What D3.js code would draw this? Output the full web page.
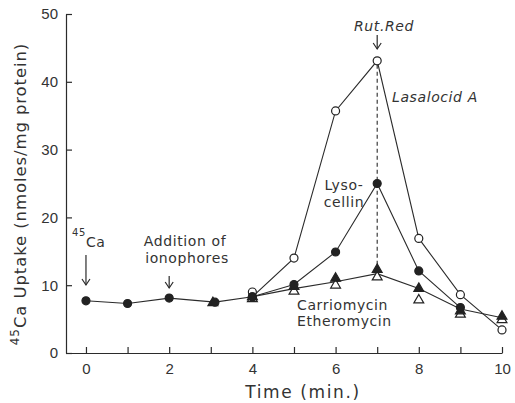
<!DOCTYPE html>
<html>
<head>
<meta charset="utf-8">
<script src="https://cdn.jsdelivr.net/npm/d3@7"></script>
<style>
  body { margin: 0; background: #fff; }
  svg { display: block; font-family: "DejaVu Sans", sans-serif; }
  .axis path, .axis line { stroke: #2b2b2b; stroke-width: 1.2; }
  .axis text { fill: #333; font-size: 15px; }
  .series { fill: none; stroke: #2b2b2b; stroke-width: 1.1; }
  .note { fill: #333; font-size: 14px; letter-spacing: 0.6px; }
</style>
</head>
<body>
<svg id="chart" width="515" height="403"></svg>
<script>
// data (time in min, 45Ca uptake in nmoles/mg protein)
const baseTime = [0, 1, 2, 3.1, 4];
const baseUptake = [7.7, 7.3, 8.1, 7.5, 8.3];

const ionTime = [4, 5, 6, 7, 8, 9, 10];
const lasalocid = [9.0, 14.0, 35.7, 43.1, 16.9, 8.6, 3.4];
const lysocellin = [8.3, 10.1, 14.9, 25.0, 12.1, 6.7, null];
const carriomycin = [8.3, 9.8, 11.0, 12.3, 9.5, 6.2, 5.4];
const etheromycin = [8.0, 9.1, 10.0, 11.2, 7.8, 5.7, 4.9];

// lines as drawn in the figure (all start from the common point at 4 min)
const lasalocidLine = [8.3, 14.0, 35.7, 43.1, 16.9, 8.6, 3.4];
const lysocellinLine = [8.3, 10.1, 14.9, 25.0, 12.1, 6.7, null];
const triangleLine = [8.3, 9.5, 10.5, 11.7, 9.5, 6.5, 5.2];

const xTicks = [0, 1, 2, 3, 4, 5, 6, 7, 8, 9, 10];
const xLabels = [0, 2, 4, 6, 8, 10];
const yTicks = [0, 10, 20, 30, 40, 50];

const svg = d3.select('#chart');

const x = d3.scaleLinear().domain([-0.48, 10]).range([66, 502]);
const y = d3.scaleLinear().domain([0, 50]).range([353, 14]);

// axes, ticks pointing inward
svg.append('g')
    .attr('class', 'axis')
    .attr('transform', 'translate(0,353)')
    .call(d3.axisBottom(x)
        .tickValues(xTicks)
        .tickSize(-6)
        .tickSizeOuter(0)
        .tickFormat(d => xLabels.includes(d) ? d : ''))
    .selectAll('.tick text')
    .attr('y', 10);

svg.append('g')
    .attr('class', 'axis')
    .attr('transform', 'translate(66,0)')
    .call(d3.axisLeft(y)
        .tickValues(yTicks)
        .tickSize(-6)
        .tickSizeOuter(0))
    .selectAll('.tick text')
    .attr('x', -8);

// axis titles
svg.append('text')
    .attr('x', 303)
    .attr('y', 398)
    .attr('text-anchor', 'middle')
    .attr('class', 'note')
    .style('font-size', '17px')
    .style('letter-spacing', '1.6px')
    .text('Time  (min.)');

const yTitle = svg.append('text')
    .attr('transform', 'translate(26,194) rotate(-90)')
    .attr('text-anchor', 'middle')
    .attr('class', 'note')
    .style('font-size', '16.5px')
    .style('letter-spacing', '0.9px');
yTitle.append('tspan').attr('dy', -7).style('font-size', '12px').text('45');
yTitle.append('tspan').attr('dy', 7).text('Ca Uptake (nmoles/mg protein)');

// lines
const line = (times) => d3.line()
    .defined(d => d != null)
    .x((d, i) => x(times[i]))
    .y(d => y(d));

svg.append('path').attr('class', 'series').attr('d', line(baseTime)(baseUptake));
svg.append('path').attr('class', 'series').attr('d', line(ionTime)(lasalocidLine));
svg.append('path').attr('class', 'series').attr('d', line(ionTime)(lysocellinLine));
svg.append('path').attr('class', 'series').attr('d', line(ionTime)(triangleLine));

// Ruthenium red marker at 7 min
svg.append('line')
    .attr('x1', x(7)).attr('x2', x(7))
    .attr('y1', y(43.1) + 4).attr('y2', y(12.3) - 4)
    .attr('stroke', '#2b2b2b')
    .attr('stroke-width', 1.1)
    .attr('stroke-dasharray', '4,3');

// markers
const tri = d3.symbol().type(d3.symbolTriangle).size(42);

const drawPoints = (times, values, kind) => {
    const pts = times.map((t, i) => ({t, v: values[i]})).filter(d => d.v != null);
    const g = svg.append('g');
    if (kind === 'circle' || kind === 'dot') {
        g.selectAll('circle').data(pts).enter().append('circle')
            .attr('cx', d => x(d.t))
            .attr('cy', d => y(d.v))
            .attr('r', 4)
            .attr('fill', kind === 'dot' ? '#222' : '#fff')
            .attr('stroke', '#222')
            .attr('stroke-width', 1.2);
    } else {
        g.selectAll('path').data(pts).enter().append('path')
            .attr('d', tri)
            .attr('transform', d => 'translate(' + x(d.t) + ',' + y(d.v) + ')')
            .attr('fill', kind === 'filledTri' ? '#222' : '#fff')
            .attr('stroke', '#222')
            .attr('stroke-width', 1.2);
    }
};

drawPoints(ionTime, etheromycin, 'openTri');
drawPoints(ionTime, carriomycin, 'filledTri');
drawPoints(ionTime, lasalocid, 'circle');
drawPoints(ionTime, lysocellin, 'dot');
drawPoints([3.05], [7.4], 'filledTri');
drawPoints(baseTime, baseUptake, 'dot');

// arrows
const arrow = (t, y1, y2) => {
    svg.append('line')
        .attr('x1', x(t)).attr('x2', x(t))
        .attr('y1', y1).attr('y2', y2)
        .attr('stroke', '#2b2b2b').attr('stroke-width', 1.2);
    svg.append('path')
        .attr('d', 'M' + (x(t) - 4) + ',' + (y2 - 6) + 'L' + x(t) + ',' + y2 + 'L' + (x(t) + 4) + ',' + (y2 - 6))
        .attr('fill', 'none')
        .attr('stroke', '#2b2b2b').attr('stroke-width', 1.2);
};

arrow(0, 255, 285);
arrow(2, 276, 288);
arrow(7, 35, 49);

// annotations
const note = (tx, ty, txt, opts = {}) => svg.append('text')
    .attr('x', tx).attr('y', ty)
    .attr('class', 'note')
    .attr('text-anchor', opts.anchor || 'middle')
    .style('font-style', opts.italic ? 'italic' : 'normal')
    .text(txt);

const ca = svg.append('text').attr('x', 72).attr('y', 247).attr('class', 'note');
ca.append('tspan').attr('dy', -11).style('font-size', '10px').text('45');
ca.append('tspan').attr('dy', 11).text('Ca');

note(185, 246, 'Addition of');
note(187, 263, 'ionophores');
note(384, 31, 'Rut.Red', {italic: true});
note(392, 102, 'Lasalocid A', {anchor: 'start', italic: true});
note(344, 190, 'Lyso-');
note(344, 207, 'cellin');
note(297, 310, 'Carriomycin', {anchor: 'start'});
note(297, 326, 'Etheromycin', {anchor: 'start'});
</script>
</body>
</html>
